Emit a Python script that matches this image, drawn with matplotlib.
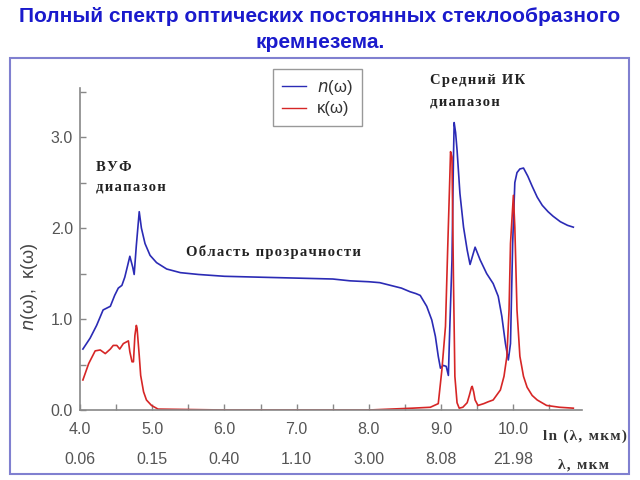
import matplotlib
matplotlib.use("Agg")
import matplotlib.pyplot as plt
from matplotlib.patches import Rectangle

# n(omega) - refractive index
n_x = [4.04, 4.14, 4.23, 4.32, 4.37, 4.42, 4.48, 4.53, 4.58, 4.62, 4.66, 4.69,
       4.73, 4.75, 4.78, 4.82, 4.85, 4.90, 4.97, 5.06, 5.20, 5.39, 5.64,
       6.00, 6.49, 7.00, 7.50, 7.74, 8.00, 8.15, 8.30, 8.45, 8.57, 8.65, 8.71,
       8.80, 8.87, 8.92, 8.96, 8.99, 9.03, 9.07, 9.10, 9.12, 9.15, 9.17, 9.18,
       9.20, 9.22, 9.26, 9.31, 9.36, 9.40, 9.47, 9.54, 9.63, 9.72, 9.79, 9.84,
       9.89, 9.93, 9.96, 9.99, 10.02, 10.05, 10.09, 10.14, 10.20, 10.26, 10.33,
       10.40, 10.48, 10.55, 10.65, 10.75, 10.83]
n_y = [0.67, 0.79, 0.93, 1.10, 1.12, 1.14, 1.26, 1.34, 1.37, 1.46, 1.59, 1.69,
       1.57, 1.49, 1.81, 2.18, 2.00, 1.83, 1.70, 1.62, 1.55, 1.51, 1.49,
       1.47, 1.46, 1.45, 1.44, 1.42, 1.41, 1.40, 1.37, 1.34, 1.30, 1.28, 1.26,
       1.14, 0.99, 0.81, 0.59, 0.46, 0.49, 0.48, 0.38, 0.92, 1.65, 2.75, 3.16,
       3.05, 2.86, 2.38, 2.01, 1.76, 1.60, 1.79, 1.65, 1.50, 1.39, 1.25, 1.03,
       0.73, 0.55, 0.73, 1.83, 2.50, 2.61, 2.65, 2.66, 2.57, 2.46, 2.34,
       2.25, 2.18, 2.13, 2.07, 2.03, 2.01]

# kappa(omega) - extinction coefficient
k_x = [4.04, 4.12, 4.21, 4.28, 4.35, 4.42, 4.46, 4.51, 4.55, 4.60, 4.67, 4.69,
       4.72, 4.74, 4.76, 4.78, 4.79, 4.82, 4.84, 4.88, 4.92, 4.99, 5.08, 6.00,
       7.00, 8.00, 8.30, 8.60, 8.85, 8.96, 9.01, 9.06, 9.09, 9.12, 9.13, 9.15,
       9.17, 9.19, 9.22, 9.25, 9.30, 9.36, 9.39, 9.42, 9.43, 9.45, 9.47, 9.51,
       9.59, 9.65, 9.72, 9.82, 9.87, 9.91, 9.94, 9.96, 10.00, 10.02, 10.05,
       10.09, 10.14, 10.19, 10.26, 10.33, 10.46, 10.64, 10.83]
k_y = [0.33, 0.51, 0.65, 0.66, 0.62, 0.67, 0.71, 0.71, 0.67, 0.73, 0.76, 0.64,
       0.53, 0.53, 0.82, 0.93, 0.90, 0.60, 0.38, 0.20, 0.11, 0.05, 0.01, 0.00,
       0.00, 0.00, 0.01, 0.02, 0.03, 0.07, 0.44, 0.92, 1.76, 2.56, 2.84, 2.78,
       1.46, 0.37, 0.08, 0.02, 0.03, 0.08, 0.16, 0.25, 0.26, 0.20, 0.11, 0.05,
       0.07, 0.09, 0.11, 0.22, 0.37, 0.59, 1.10, 1.83, 2.36, 2.01, 1.10,
       0.59, 0.37, 0.25, 0.16, 0.11, 0.05, 0.03, 0.02]

# axis labels
ln_ticks = [4.0, 5.0, 6.0, 7.0, 8.0, 9.0, 10.0]
lam_labels = ["0.06", "0.15", "0.40", "1.10", "3.00", "8.08", "21.98"]
y_ticks = [0.0, 1.0, 2.0, 3.0]

plt.rcParams['font.family'] = ['Liberation Sans', 'DejaVu Sans']
serif = ['Liberation Serif', 'DejaVu Serif']
tick_color = '#555555'


def spaced(s):
    # letter-spaced look of the original captions
    return '\u200a'.join(s)


fig = plt.figure(figsize=(6.4, 4.8), dpi=100)
ax = fig.add_axes([80 / 640, 70 / 480, 502 / 640, 322 / 480])

ax.plot(n_x, n_y, color='#2b2bb5', lw=1.2, label='$n$(ω)')
ax.plot(k_x, k_y, color='#d62626', lw=1.2, label='κ(ω)')

ax.set_xlim(4.0, 10.95)
ax.set_ylim(0.0, 3.54)
for s in ['top', 'right']:
    ax.spines[s].set_visible(False)
for s in ['left', 'bottom']:
    ax.spines[s].set_color('#888888')
    ax.spines[s].set_linewidth(1.2)

ax.set_xticks(ln_ticks)
ax.set_xticklabels([f"{v:.1f}" for v in ln_ticks])
ax.set_xticks([v + 0.5 for v in ln_ticks], minor=True)
ax.set_yticks(y_ticks)
ax.set_yticklabels([f"{v:.1f}" for v in y_ticks])
ax.set_yticks([0.5, 1.5, 2.5, 3.5], minor=True)
ax.tick_params(which='both', direction='in', color='#888888', length=4, width=1)
ax.tick_params(axis='x', labelsize=11.5, labelcolor=tick_color, pad=9)
ax.tick_params(axis='y', labelsize=11.5, labelcolor=tick_color, pad=5)

# second row of x labels (wavelength, um)
for x, lab in zip(ln_ticks, lam_labels):
    ax.text(x, -0.155, lab, transform=ax.get_xaxis_transform(), ha='center',
            va='center', fontsize=11.5, color=tick_color)

fig.text(543 / 640, 1 - 436 / 480, spaced("ln (λ, мкм)"), family=serif,
         fontweight='bold', fontsize=11, color='#333333', va='center')
fig.text(558 / 640, 1 - 465 / 480, spaced("λ, мкм"), family=serif,
         fontweight='bold', fontsize=11, color='#333333', va='center')

fig.text(30 / 640, 1 - 287 / 480, "$n$(ω),  κ(ω)", rotation=90, ha='center',
         va='center', fontsize=13, color='#444444')

ax.text(4.22, 2.74, spaced("ВУФ") + "\n" + spaced("диапазон"), family=serif,
        fontweight='bold', fontsize=10.5, color='#222222', ha='left', va='top',
        linespacing=1.7)
ax.text(5.47, 1.74, spaced("Область прозрачности"), family=serif,
        fontweight='bold', fontsize=10.5, color='#222222', ha='left',
        va='center')
ax.text(8.85, 3.69, spaced("Средний ИК") + "\n" + spaced("диапазон"),
        family=serif, fontweight='bold', fontsize=10.5, color='#222222',
        ha='left', va='top', linespacing=1.8, clip_on=False)

leg = ax.legend(loc='upper left', bbox_to_anchor=(273 / 640, 1 - 69 / 480),
                bbox_transform=fig.transFigure, fontsize=12, frameon=True,
                fancybox=False, framealpha=1, edgecolor='#999999',
                handlelength=1.4, handletextpad=0.7, borderpad=0.55,
                labelspacing=0.25, borderaxespad=0)
for t in leg.get_texts():
    t.set_color('#333333')
for h in leg.get_lines():
    h.set_linewidth(1.0)

fig.text(0.5, 1 - 17 / 480, "Полный спектр оптических постоянных стеклообразного",
         ha='center', va='center', fontsize=15, fontweight='bold', color='#1a1acc')
fig.text(0.5, 1 - 43 / 480, "кремнезема.",
         ha='center', va='center', fontsize=15, fontweight='bold', color='#1a1acc')

fig.patches.append(Rectangle((10 / 640, 6 / 480), 619 / 640, 416 / 480,
                             transform=fig.transFigure, fill=False,
                             edgecolor='#8080d0', lw=1.5))

fig.savefig("out.png", dpi=100)
